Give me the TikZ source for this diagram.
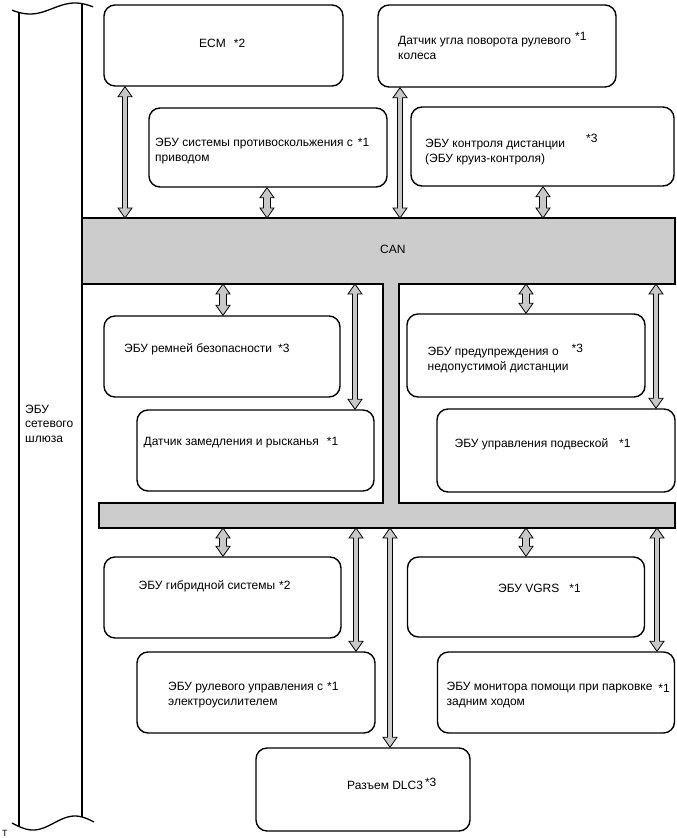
\documentclass[tikz,border=0pt]{standalone}
\usepackage{fontspec}
\setmainfont{Liberation Sans}
\usetikzlibrary{calc}
\definecolor{busgray}{HTML}{CCCCCC}
\definecolor{arrgray}{HTML}{C8C8C8}
\tikzset{
 ecu/.style={draw=black, line width=1.4pt, rounded corners=11pt, fill=white, inner sep=0pt},
 lbl/.style={anchor=base west, inner sep=0pt, font=\fontsize{12}{15}\selectfont},
 bus/.style={draw=black, line width=1.3pt, fill=busgray, line join=miter},
 dbl/.style={draw=black, line width=0.8pt, fill=arrgray, line join=miter},
 frameline/.style={line width=1.3pt},
 anchorbox/.style={inner sep=0pt, outer sep=0pt},
}
\newcommand\twolines[2]{\vtop{\hbox{#1}\hbox{#2}}}
\newcommand\busarrow[3][2.5]{%
 \draw[dbl] let \p1=(#2), \p2=(#3) in
 (\x1,\y1) -- (\x1+7pt,\y1-10pt) -- (\x1+#1pt,\y1-10pt) -- (\x1+#1pt,\y2+10pt)
 -- (\x1+7pt,\y2+10pt) -- (\x1,\y2) -- (\x1-7pt,\y2+10pt) -- (\x1-#1pt,\y2+10pt)
 -- (\x1-#1pt,\y1-10pt) -- (\x1-7pt,\y1-10pt) -- cycle;}
\begin{document}
\begin{tikzpicture}[x=1pt,y=-1pt]
\useasboundingbox (0,0) rectangle (677,838);
% gateway frame
\draw[frameline] plot[domain=12:93, samples=60, smooth] (\x,{8.5+5.5*cos((\x-30)*4)});
\draw[frameline] plot[domain=12:94, samples=60, smooth] (\x,{823+7*cos((\x-33)*4.29)});
\draw[frameline] (19,12.5) -- (19,826.5);
\draw[frameline] (82,3.6) -- (82,817);
\node[lbl] (gw) at (25,413) {\vtop{\baselineskip=14.5pt\hbox{ЭБУ}\hbox{сетевого}\hbox{шлюза}}};
\node[anchor=base west, inner sep=0pt, font=\fontsize{9}{9}\selectfont] (tmark) at (2,836) {T};
% bus shape
\draw[bus] (82,218) -- (675,218) -- (675,284) -- (399,284) -- (399,503) -- (675,503)
 -- (675,528) -- (99,528) -- (99,503) -- (383,503) -- (383,284) -- (82,284) -- cycle;
\node[anchorbox, minimum width=593pt, minimum height=66pt] (can) at (378.5,251) {};
\node[anchorbox, minimum width=576pt, minimum height=25pt] (lowbar) at (387,515.5) {};
\node[lbl] (tcan) at (380,253) {CAN};
% ECU boxes
\node[ecu, minimum width=239pt, minimum height=81pt] (ecm) at (223.5,45.5) {};
\node[ecu, minimum width=238pt, minimum height=82pt] (sas) at (497,46) {};
\node[ecu, minimum width=238pt, minimum height=79pt] (vsc) at (268,147.5) {};
\node[ecu, minimum width=263pt, minimum height=79pt] (dist) at (542.5,146.5) {};
\node[ecu, minimum width=236pt, minimum height=81pt] (belt) at (222,356.5) {};
\node[ecu, minimum width=237pt, minimum height=81pt] (yaw) at (255.5,450.5) {};
\node[ecu, minimum width=238pt, minimum height=83pt] (pcs) at (526,355.5) {};
\node[ecu, minimum width=238pt, minimum height=83pt] (susp) at (556,450.5) {};
\node[ecu, minimum width=237pt, minimum height=81pt] (hv) at (222.5,597.5) {};
\node[ecu, minimum width=238pt, minimum height=81pt] (eps) at (256,692.5) {};
\node[ecu, minimum width=237pt, minimum height=80pt] (vgrs) at (526,597) {};
\node[ecu, minimum width=237pt, minimum height=81pt] (park) at (556,692.5) {};
\node[ecu, minimum width=214pt, minimum height=83pt] (dlc) at (363,789.5) {};
% labels
\node[lbl] (tecm) at (199,47) {ECM\hspace{8pt}*2};
\node[lbl] (tsas) at (398,44) {\twolines{Датчик угла поворота рулевого\hspace{4pt}\raisebox{4pt}{*1}}{колеса}};
\node[lbl] (tvsc) at (155,146) {\twolines{ЭБУ системы противоскольжения с\hspace{5pt}*1}{приводом}};
\node[lbl] (tdist) at (425,147) {\twolines{ЭБУ контроля дистанции\hspace{21pt}\raisebox{5pt}{*3}}{(ЭБУ круиз-контроля)}};
\node[lbl] (tbelt) at (124,352) {ЭБУ ремней безопасности\hspace{6pt}*3};
\node[lbl] (tyaw) at (143.5,445) {Датчик замедления и рысканья\hspace{8pt}*1};
\node[lbl] (tpcs) at (427.5,355) {\twolines{ЭБУ предупреждения о\hspace{13pt}\raisebox{3pt}{*3}}{недопустимой дистанции}};
\node[lbl] (tsusp) at (454.5,447) {ЭБУ управления подвеской\hspace{11pt}*1};
\node[lbl] (thv) at (138.5,589) {ЭБУ гибридной системы\hspace{4pt}*2};
\node[lbl] (teps) at (168,690) {\twolines{ЭБУ рулевого управления с\hspace{4pt}*1}{электроусилителем}};
\node[lbl] (tvgrs) at (498,592) {ЭБУ VGRS\hspace{10pt}*1};
\node[lbl] (tpark) at (446.5,690) {\twolines{ЭБУ монитора помощи при парковке\hspace{6pt}\raisebox{-2.5pt}{*1}}{задним ходом}};
\node[lbl] (tdlc) at (347,789) {Разъем DLC3\hspace{2pt}\raisebox{2.5pt}{*3}};
% connectors
\busarrow{ecm.south -| 125,0}{can.north -| 125,0}
\busarrow[3.5]{vsc.south -| 267,0}{can.north -| 267,0}
\busarrow{sas.south -| 400,0}{can.north -| 400,0}
\busarrow[3.5]{dist.south -| 543,0}{can.north -| 543,0}
\busarrow[3.5]{can.south -| 223,0}{belt.north -| 223,0}
\busarrow{can.south -| 355,0}{yaw.north -| 355,0}
\busarrow[3.5]{can.south -| 526,0}{pcs.north -| 526,0}
\busarrow{can.south -| 656,0}{susp.north -| 656,0}
\busarrow[3.5]{lowbar.south -| 223,0}{hv.north -| 223,0}
\busarrow{lowbar.south -| 356,0}{eps.north -| 356,0}
\busarrow{lowbar.south -| 390,0}{dlc.north -| 390,0}
\busarrow[3.5]{lowbar.south -| 526,0}{vgrs.north -| 526,0}
\busarrow{lowbar.south -| 657,0}{park.north -| 657,0}
\end{tikzpicture}
\end{document}
